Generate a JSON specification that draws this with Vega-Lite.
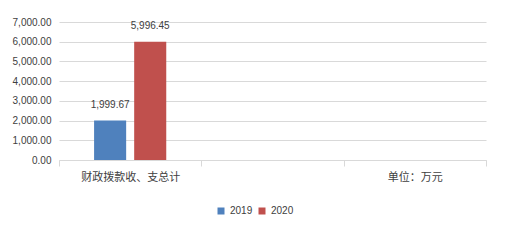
{
  "$schema": "https://vega.github.io/schema/vega-lite/v6.json",
  "autosize": {"type": "none"},
  "padding": {"left": 59, "top": 22, "right": 19, "bottom": 82},
  "width": 427,
  "height": 138,
  "background": "white",
  "config": {
    "view": {"stroke": null},
    "font": "Liberation Sans"
  },
  "data": {
    "values": [
      {"category": "财政拨款收、支总计", "year": "2019", "value": 1999.67},
      {"category": "财政拨款收、支总计", "year": "2020", "value": 5996.45}
    ]
  },
  "encoding": {
    "x": {
      "field": "category",
      "type": "nominal",
      "scale": {"domain": ["财政拨款收、支总计", "", "单位：万元"], "paddingInner": 0, "paddingOuter": 0},
      "axis": {
        "title": null,
        "labelAngle": 0,
        "labelFont": "Noto Sans CJK SC",
        "labelFontSize": 11,
        "labelColor": "#404040",
        "labelPadding": 5,
        "tickBand": "extent",
        "tickSize": 6,
        "tickColor": "#d9d9d9",
        "domainColor": "#d9d9d9",
        "grid": false
      }
    },
    "xOffset": {
      "field": "year",
      "type": "nominal",
      "scale": {"paddingInner": 0.2, "paddingOuter": 0.875}
    },
    "y": {
      "field": "value",
      "type": "quantitative",
      "scale": {"domain": [0, 7000], "nice": false},
      "axis": {
        "title": null,
        "values": [0, 1000, 2000, 3000, 4000, 5000, 6000, 7000],
        "format": ",.2f",
        "domain": false,
        "ticks": false,
        "labelPadding": 8,
        "labelFontSize": 10,
        "labelColor": "#404040",
        "gridColor": "#d9d9d9"
      }
    }
  },
  "layer": [
    {
      "mark": {"type": "bar"},
      "encoding": {
        "color": {
          "field": "year",
          "type": "nominal",
          "scale": {"domain": ["2019", "2020"], "range": ["#4f81bd", "#c0504d"]},
          "legend": {
            "title": null,
            "orient": "none",
            "direction": "horizontal",
            "legendX": 157,
            "legendY": 184,
            "symbolType": "square",
            "symbolSize": 49,
            "labelFontSize": 10,
            "labelColor": "#404040",
            "labelOffset": 4,
            "columnPadding": 4
          }
        }
      }
    },
    {
      "mark": {"type": "text", "baseline": "alphabetic", "dy": -13, "fontSize": 10, "color": "#404040"},
      "encoding": {
        "text": {"field": "value", "type": "quantitative", "format": ",.2f"}
      }
    }
  ]
}
